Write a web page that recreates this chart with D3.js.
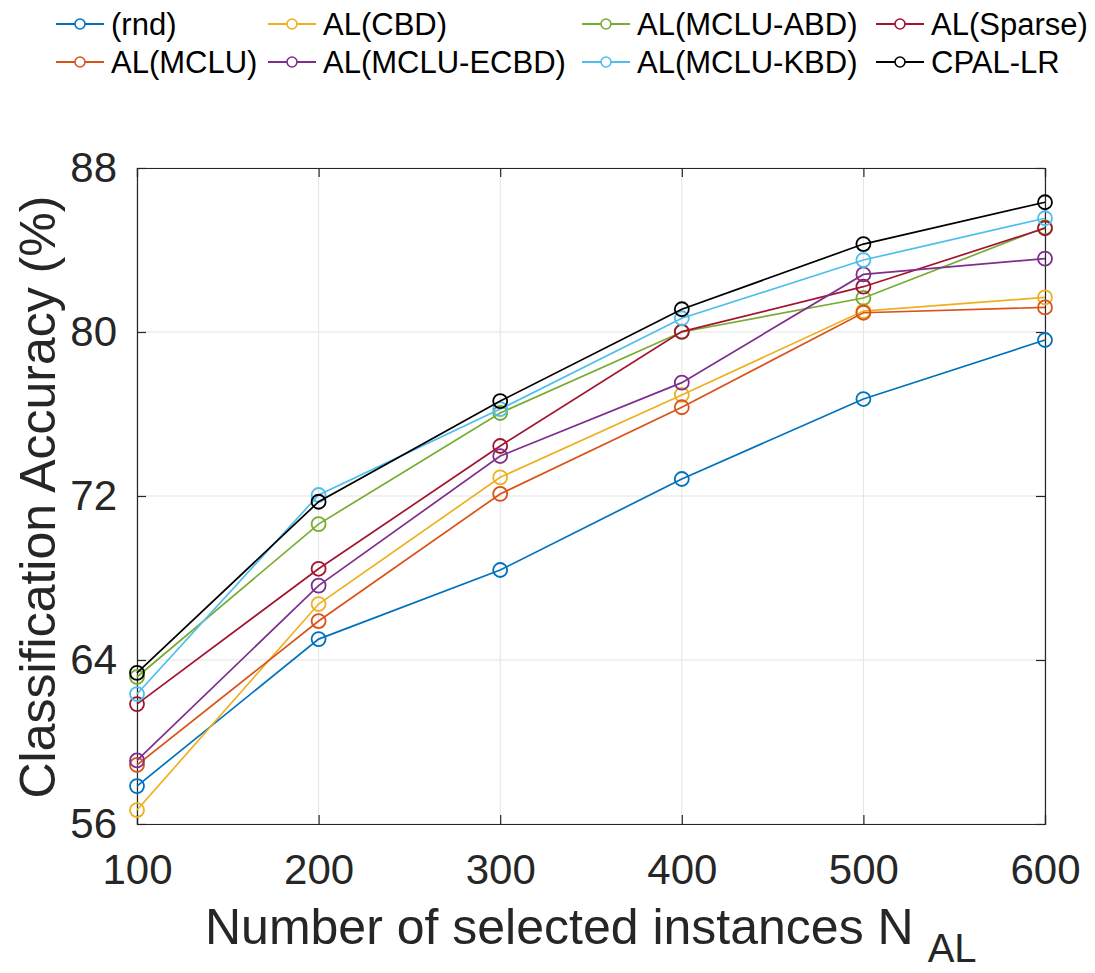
<!DOCTYPE html>
<html>
<head>
<meta charset="utf-8">
<script src="https://cdn.jsdelivr.net/npm/d3@7"></script>
<style>
  html, body { margin: 0; padding: 0; background: #fff; }
  svg { display: block; font-family: "Liberation Sans", Arial, Helvetica, sans-serif; }
</style>
</head>
<body>
<svg id="chart" width="1095" height="973"></svg>
<script>
// ---- data ----
const xValues = [100, 200, 300, 400, 500, 600];
const seriesNames = ["(rnd)", "AL(CBD)", "AL(MCLU-ABD)", "AL(Sparse)", "AL(MCLU)", "AL(MCLU-ECBD)", "AL(MCLU-KBD)", "CPAL-LR"];
const rnd      = [57.85, 65.02, 68.39, 72.83, 76.73, 79.61];
const alCBD    = [56.68, 66.73, 72.91, 76.93, 81.02, 81.69];
const alABD    = [63.17, 70.63, 76.05, 80.00, 81.66, 85.10];
const alSparse = [61.85, 68.45, 74.44, 80.02, 82.21, 85.06];
const alMCLU   = [58.88, 65.90, 72.10, 76.33, 80.94, 81.20];
const alECBD   = [59.10, 67.63, 73.95, 77.53, 82.81, 83.58];
const alKBD    = [62.34, 72.05, 76.24, 80.67, 83.51, 85.55];
const cpalLR   = [63.37, 71.72, 76.63, 81.11, 84.29, 86.33];
const xTicks = [100, 200, 300, 400, 500, 600];
const yTicks = [56, 64, 72, 80, 88];
const colors = ["#0072BD", "#EDB120", "#77AC30", "#A2142F", "#D95319", "#7E2F8E", "#4DBEEE", "#000000"];

const seriesValues = [rnd, alCBD, alABD, alSparse, alMCLU, alECBD, alKBD, cpalLR];
const series = seriesNames.map((name, i) => ({ name, color: colors[i], values: seriesValues[i] }));

// ---- layout ----
const L = 137, R = 1045, T = 168, B = 824;
const svg = d3.select("#chart");
const x = d3.scaleLinear().domain([100, 600]).range([L, R]);
const y = d3.scaleLinear().domain([56, 88]).range([B, T]);
const axisColor = "#262626";

// grid
const grid = svg.append("g");
grid.selectAll(".gx").data(xTicks).enter().append("line")
  .attr("x1", d => x(d)).attr("x2", d => x(d)).attr("y1", T).attr("y2", B)
  .attr("stroke", "#e3e3e3").attr("stroke-width", 1);
grid.selectAll(".gy").data(yTicks).enter().append("line")
  .attr("y1", d => y(d)).attr("y2", d => y(d)).attr("x1", L).attr("x2", R)
  .attr("stroke", "#e3e3e3").attr("stroke-width", 1);

// axes (ticks inward)
const tickLen = 9;
const xAxis = d3.axisBottom(x).tickValues(xTicks).tickSize(-tickLen).tickPadding(20).tickFormat(d3.format("d"));
const yAxis = d3.axisLeft(y).tickValues(yTicks).tickSize(-tickLen).tickPadding(20).tickFormat(d3.format("d"));
const xTop = d3.axisTop(x).tickValues(xTicks).tickSize(-tickLen).tickFormat("");
const yRight = d3.axisRight(y).tickValues(yTicks).tickSize(-tickLen).tickFormat("");

function styleAxis(g) {
  g.select(".domain").attr("stroke", axisColor).attr("stroke-width", 1.2);
  g.selectAll(".tick line").attr("stroke", axisColor).attr("stroke-width", 1.2);
  g.selectAll(".tick text").attr("fill", axisColor).style("font-size", "42px")
    .style("font-family", '"Liberation Sans", Arial, Helvetica, sans-serif');
}
svg.append("g").attr("transform", `translate(0,${B})`).call(xAxis).call(styleAxis)
  .selectAll(".tick text").attr("dy", "0.95em");
svg.append("g").attr("transform", `translate(${L},0)`).call(yAxis).call(styleAxis);
svg.append("g").attr("transform", `translate(0,${T})`).call(xTop).call(styleAxis);
svg.append("g").attr("transform", `translate(${R},0)`).call(yRight).call(styleAxis);

// lines + markers
const line = d3.line().x((d, i) => x(xValues[i])).y(d => y(d));
const sg = svg.append("g");
series.forEach(s => {
  const g = sg.append("g");
  g.append("path").attr("d", line(s.values)).attr("fill", "none")
    .attr("stroke", s.color).attr("stroke-width", 1.7);
  g.selectAll("circle").data(s.values).enter().append("circle")
    .attr("cx", (d, i) => x(xValues[i])).attr("cy", d => y(d)).attr("r", 7)
    .attr("fill", "none").attr("stroke", s.color).attr("stroke-width", 1.8);
});

// axis labels
const xl = svg.append("text").attr("x", 205).attr("y", 944)
  .attr("fill", axisColor).style("font-size", "50px");
xl.append("tspan").text("Number of selected instances N");
xl.append("tspan").text("AL").attr("dx", 14).attr("dy", 18).style("font-size", "40px");

svg.append("text")
  .attr("transform", `translate(55,497) rotate(-90)`)
  .attr("text-anchor", "middle").attr("fill", axisColor).style("font-size", "50px")
  .text("Classification Accuracy (%)");

// legend
const colX = [56, 268, 582, 876];
const rowY = [24, 62];
const leg = svg.append("g");
series.forEach((s, i) => {
  const r = Math.floor(i / 4), c = i % 4;
  const gx = colX[c], gy = rowY[r];
  const g = leg.append("g").attr("transform", `translate(${gx},${gy})`);
  g.append("line").attr("x1", 0).attr("x2", 48).attr("y1", 0).attr("y2", 0)
    .attr("stroke", s.color).attr("stroke-width", 2);
  g.append("circle").attr("cx", 24).attr("cy", 0).attr("r", 5)
    .attr("fill", "#fff").attr("stroke", s.color).attr("stroke-width", 1.6);
  g.append("text").attr("x", 55).attr("y", 0).attr("dy", "0.36em")
    .attr("fill", "#000").style("font-size", "31px").text(s.name);
});
</script>
</body>
</html>
